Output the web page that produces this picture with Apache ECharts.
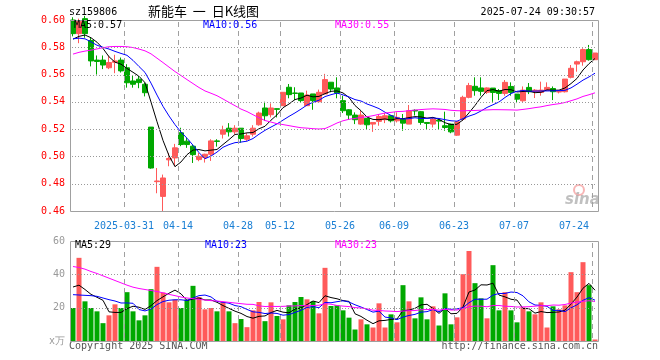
<!DOCTYPE html>
<html><head><meta charset="utf-8">
<script src="https://cdn.jsdelivr.net/npm/echarts/dist/echarts.min.js"></script>
<style>html,body{margin:0;padding:0;background:#fff}#c{width:660px;height:360px}</style>
</head><body><div id="c"></div>
<script>
const dates = [
'2025-03-18','2025-03-19','2025-03-20','2025-03-21','2025-03-24','2025-03-25','2025-03-26','2025-03-27','2025-03-28','2025-03-31',
'2025-04-01','2025-04-02','2025-04-03','2025-04-07','2025-04-08','2025-04-09','2025-04-10','2025-04-11','2025-04-14','2025-04-15',
'2025-04-16','2025-04-17','2025-04-18','2025-04-21','2025-04-22','2025-04-23','2025-04-24','2025-04-25','2025-04-28','2025-04-29',
'2025-04-30','2025-05-06','2025-05-07','2025-05-08','2025-05-09','2025-05-12','2025-05-13','2025-05-14','2025-05-15','2025-05-16',
'2025-05-19','2025-05-20','2025-05-21','2025-05-22','2025-05-23','2025-05-26','2025-05-27','2025-05-28','2025-05-29','2025-05-30',
'2025-06-03','2025-06-04','2025-06-05','2025-06-06','2025-06-09','2025-06-10','2025-06-11','2025-06-12','2025-06-13','2025-06-16',
'2025-06-17','2025-06-18','2025-06-19','2025-06-20','2025-06-23','2025-06-24','2025-06-25','2025-06-26','2025-06-27','2025-06-30',
'2025-07-01','2025-07-02','2025-07-03','2025-07-04','2025-07-07','2025-07-08','2025-07-09','2025-07-10','2025-07-11','2025-07-14',
'2025-07-15','2025-07-16','2025-07-17','2025-07-18','2025-07-21','2025-07-22','2025-07-23','2025-07-24'];

const opens = [
.600,.590,.601,.585,.5706,.5706,.565,.569,.5706,.565,
.5553,.5566,.5529,.5215,.4815,.4707,.4975,.4989,.5173,.5112,
.5075,.4977,.4992,.5016,.5114,.5163,.5207,.518,.5207,.5126,
.5163,.5232,.5355,.5306,.535,.5372,.5507,.5465,.5465,.5372,
.5458,.5401,.5458,.5544,.5502,.5409,.5342,.5303,.5237,.5279,
.5237,.5257,.5269,.5298,.5261,.5274,.5237,.5338,.5328,.5249,
.5237,.5266,.5225,.5237,.5156,.5274,.5433,.5514,.5502,.547,
.5501,.5481,.5462,.5513,.5457,.5408,.5506,.5474,.5469,.5486,
.5498,.5472,.5474,.558,.5677,.5694,.5783,.5709];
const closes = [
.590,.599,.590,.570,.5696,.567,.5688,.570,.5627,.554,
.5529,.5541,.5467,.4915,.482,.4842,.4985,.5063,.5087,.5087,
.5013,.5001,.5016,.5114,.511,.5195,.518,.5207,.5131,.5151,
.5207,.5318,.5298,.5355,.5345,.547,.5453,.5462,.5409,.545,
.5409,.547,.5563,.5494,.5465,.5335,.5303,.5269,.5303,.5232,
.5249,.5293,.5298,.5261,.5286,.5244,.5335,.5333,.5249,.5242,
.5274,.5259,.5212,.518,.5254,.5433,.5519,.5482,.5477,.5502,
.5469,.5462,.5543,.5469,.542,.5486,.5474,.5486,.5486,.5506,
.5474,.5477,.5567,.5646,.5694,.5783,.5709,.5758];
const lows = [
.588,.583,.587,.566,.560,.564,.564,.561,.5615,.5504,
.5504,.550,.544,.491,.473,.460,.4928,.4928,.5075,.5063,
.4952,.4965,.4955,.4967,.5072,.5131,.5146,.5163,.510,.5114,
.5146,.5225,.5261,.5286,.5286,.537,.5426,.5413,.5396,.5372,
.5342,.5396,.5458,.547,.5426,.5318,.5269,.5237,.5232,.520,
.518,.5225,.5244,.5249,.5249,.5188,.5237,.530,.5232,.520,
.5212,.520,.5188,.517,.5151,.5262,.5426,.5445,.5445,.5458,
.540,.5413,.5445,.5445,.5391,.540,.5457,.5428,.5445,.5481,
.5413,.5462,.5469,.5572,.5621,.5665,.5702,.5709];
const highs = [
.602,.601,.603,.587,.574,.574,.574,.5745,.5725,.5676,
.559,.559,.5543,.5215,.4915,.4867,.5026,.5092,.521,.5136,
.5087,.5026,.502,.5126,.5126,.5225,.5244,.5229,.5207,.517,
.5229,.5328,.5401,.5389,.5352,.547,.5531,.5507,.5465,.5482,
.5458,.549,.5605,.5544,.558,.5445,.5347,.5323,.5335,.528,
.5249,.531,.5318,.530,.5323,.5311,.5377,.5345,.5333,.525,
.5286,.5274,.5328,.524,.5257,.5445,.5539,.558,.558,.5506,
.5501,.5494,.556,.5543,.5457,.5513,.5538,.5494,.5548,.5543,
.5513,.5481,.5567,.567,.5702,.5793,.5817,.5758];
const volumes = [
19.8,49.9,23.8,19.8,17.8,10.7,15.4,22.0,19.8,29.3,
17.8,12.4,15.4,31.1,44.5,29.1,23.2,24.8,19.8,24.8,
33.1,26.4,19.0,19.8,17.8,23.4,17.8,10.7,13.2,8.3,
18.4,23.4,11.9,23.2,15.0,13.0,21.4,23.4,26.4,25.0,
23.8,16.6,43.9,21.0,21.4,18.4,14.0,6.9,13.0,10.0,
8.1,22.6,8.1,16.0,11.2,33.5,23.8,13.6,26.2,13.0,
20.8,9.3,28.6,10.0,14.2,40.1,54.0,34.7,25.6,13.6,
45.5,18.4,29.3,18.4,11.2,20.2,17.8,16.0,23.2,8.1,
20.8,19.0,21.4,41.3,29.3,47.3,33.5,0.9];

const priceMa5Head = [0.586, 0.588, 0.589, 0.587];
const priceMa10Head = [0.5862, 0.5867, 0.5862, 0.584, 0.5815, 0.580, 0.5787, 0.577, 0.5755];
const priceMa30Head = [0.575,0.5763,0.5772,0.5779,0.5788,0.5797,0.5804,0.5806,0.5806,0.5804,
0.5798,0.5787,0.5774,0.5752,0.572,0.5688,0.5655,0.5622,0.5593,0.5563,
0.5534,0.5505,0.548,0.5463,0.5445,0.5421,0.5396,0.5372,0.5347];
const volMa5Head = [32.4, 33.5, 30.9, 28.0];
const volMa10Head = [27.8, 27.6, 27.4, 27.2, 26.8, 25.8, 24.8, 24.0, 22.8];
const volMa30Head = [44.7,44.1,43.1,41.7,40.5,39.1,37.7,36.3,34.9,33.5,
32.3,31.5,30.9,30.3,29.7,28.9,28.0,27.2,26.4,25.8,
25.4,25.0,24.6,24.2,24.0,23.6,23.2,22.8,22.4];

const tickDates = ['2025-03-31','2025-04-14','2025-04-28','2025-05-12','2025-05-26','2025-06-09','2025-06-23','2025-07-07','2025-07-24'];
const priceTicks = {min: 0.46, max: 0.60, step: 0.02};
const volTicks = {min: 0, max: 60, step: 20};

const RED = '#ff5a5a', GREEN = '#00a800';
const MONO = 'DejaVu Sans Mono';

function movingAvg(src, n, head) {
  return src.map((_, i) => {
    if (i < n - 1) return head[i];
    let s = 0;
    for (let k = i - n + 1; k <= i; k++) s += src[k];
    return +(s / n).toFixed(5);
  });
}

const tickIdx = tickDates.map(d => dates.indexOf(d));
const isTick = (i) => tickIdx.indexOf(i) >= 0;

const candleData = dates.map((d, i) => [opens[i], closes[i], lows[i], highs[i]]);
const volData = volumes.map((v, i) => ({value: v, itemStyle: {color: closes[i] >= opens[i] ? RED : GREEN}}));

function maLine(name, data, color, xi, yi) {
  return {name, type: 'line', data, xAxisIndex: xi, yAxisIndex: yi, showSymbol: false, symbol: 'none',
    lineStyle: {color, width: 1}, z: 5, silent: true};
}

const xCommon = (gi, showLabel) => ({
  type: 'category', gridIndex: gi, data: dates, boundaryGap: true,
  axisLine: {show: false}, axisTick: {show: false}, splitLine: {show: false},
  axisLabel: showLabel ? {
    interval: (i) => isTick(i),
    formatter: (v) => v === tickDates[0] ? v : v.slice(5),
    color: '#1a7fd4', fontFamily: MONO, fontSize: 10, margin: 10,
    padding: [0, 6, 0, 0], alignMaxLabel: 'right'
  } : {show: false}
});

const textEls = [
  {type: 'text', left: 69, top: 7, style: {text: 'sz159806', font: '10px "DejaVu Sans Mono"', fill: '#000'}},
  {type: 'text', left: 148, top: 5, style: {text: '新能车  一  日K线图', font: '13px "Noto Sans CJK SC"', fill: '#000'}},
  {type: 'text', right: 65, top: 7, style: {text: '2025-07-24 09:30:57', font: '10px "DejaVu Sans Mono"', fill: '#000'}},
  {type: 'text', left: 74, top: 20, style: {text: 'MA5:0.57', font: '10px "DejaVu Sans Mono"', fill: '#000'}, z: 30},
  {type: 'text', left: 203, top: 20, style: {text: 'MA10:0.56', font: '10px "DejaVu Sans Mono"', fill: '#0000ff'}, z: 30},
  {type: 'text', left: 335, top: 20, style: {text: 'MA30:0.55', font: '10px "DejaVu Sans Mono"', fill: '#ff00ff'}, z: 30},
  {type: 'text', left: 75, top: 240, style: {text: 'MA5:29', font: '10px "DejaVu Sans Mono"', fill: '#000'}, z: 30},
  {type: 'text', left: 205, top: 240, style: {text: 'MA10:23', font: '10px "DejaVu Sans Mono"', fill: '#0000ff'}, z: 30},
  {type: 'text', left: 335, top: 240, style: {text: 'MA30:23', font: '10px "DejaVu Sans Mono"', fill: '#ff00ff'}, z: 30},
  {type: 'text', left: 69, top: 341, style: {text: 'Copyright 2025 SINA.COM', font: '10px "DejaVu Sans Mono"', fill: '#555'}},
  {type: 'text', right: 62, top: 341, style: {text: 'http://finance.sina.com.cn', font: '10px "DejaVu Sans Mono"', fill: '#555'}},
  {type: 'circle', shape: {cx: 579, cy: 190, r: 5}, style: {fill: 'none', stroke: 'rgba(240,120,120,0.55)', lineWidth: 2}, z: 1},
  {type: 'text', left: 565, top: 193, style: {text: 'sina', font: 'italic bold 15px "DejaVu Sans"', fill: 'rgba(150,150,150,0.6)'}, z: 1}
];

const chart = echarts.init(document.getElementById('c'), null, {renderer: 'canvas'});
chart.setOption({
  animation: false,
  backgroundColor: '#fff',
  grid: [
    {left: 70, top: 20, width: 528, height: 191, show: false},
    {left: 70, top: 241, width: 528, height: 100, show: false}
  ],
  xAxis: [xCommon(0, true), xCommon(1, false)],
  yAxis: [
    {gridIndex: 0, min: priceTicks.min, max: priceTicks.max, interval: priceTicks.step,
      axisLine: {show: false}, axisTick: {show: false}, splitLine: {show: false},
      axisLabel: {color: '#ff0000', fontFamily: MONO, fontSize: 10, margin: 5, formatter: (v) => v.toFixed(2)}},
    {gridIndex: 1, min: volTicks.min, max: volTicks.max, interval: volTicks.step,
      axisLine: {show: false}, axisTick: {show: false}, splitLine: {show: false},
      axisLabel: {color: '#999999', fontFamily: MONO, fontSize: 10, margin: 5, formatter: (v) => v === 0 ? 'x万' : String(v)}}
  ],
  series: [
    {type: 'candlestick', xAxisIndex: 0, yAxisIndex: 0, data: candleData, barWidth: 5,
      itemStyle: {color: RED, color0: GREEN, borderColor: RED, borderColor0: GREEN, borderWidth: 1}, z: 3},
    maLine('MA5', movingAvg(closes, 5, priceMa5Head), '#000000', 0, 0),
    maLine('MA10', movingAvg(closes, 10, priceMa10Head), '#0000ff', 0, 0),
    maLine('MA30', movingAvg(closes, 30, priceMa30Head), '#ff00ff', 0, 0),
    {type: 'bar', xAxisIndex: 1, yAxisIndex: 1, data: volData, barWidth: 5, z: 3},
    maLine('VMA5', movingAvg(volumes, 5, volMa5Head), '#000000', 1, 1),
    maLine('VMA10', movingAvg(volumes, 10, volMa10Head), '#0000ff', 1, 1),
    maLine('VMA30', movingAvg(volumes, 30, volMa30Head), '#ff00ff', 1, 1)
  ]
});

// frames and dashed / dotted grid lines, drawn from short solid pieces on top of the marks,
// with positions taken from the axis scales
const gridEls = [];
[[0, 0, priceTicks], [1, 1, volTicks]].forEach(([xi, yi, t]) => {
  const yTop = Math.round(chart.convertToPixel({yAxisIndex: yi}, t.max));
  const yBot = Math.round(chart.convertToPixel({yAxisIndex: yi}, t.min));
  const x0 = chart.convertToPixel({xAxisIndex: xi}, 0);
  const bw = chart.convertToPixel({xAxisIndex: xi}, 1) - x0;
  const n = dates.length;
  const left = Math.round(x0 - bw / 2), right = Math.round(x0 + bw * (n - 0.5));
  const steps = Math.round((t.max - t.min) / t.step);
  for (let k = 1; k < steps; k++) {
    const y = Math.round(chart.convertToPixel({yAxisIndex: yi}, t.min + k * t.step));
    for (let x = left + 2; x < right - 1; x += 3) {
      gridEls.push({type: 'rect', silent: true, z: 25, shape: {x: x, y: y, width: 1, height: 1}, style: {fill: '#999999'}});
    }
  }
  tickIdx.forEach(i => {
    const x = Math.round(x0 + bw * (i - 0.5));
    for (let y = yTop + 2; y < yBot; y += 9) {
      gridEls.push({type: 'rect', silent: true, z: 25, shape: {x: x, y: y, width: 1, height: Math.min(5, yBot - y)}, style: {fill: '#a0a0a0'}});
    }
  });
  gridEls.push({type: 'rect', silent: true, z: 26,
    shape: {x: left + 0.5, y: yTop + 0.5, width: right - left, height: yBot - yTop},
    style: {fill: null, stroke: '#a0a0a0', lineWidth: 1}});
});
chart.setOption({graphic: {elements: gridEls.concat(textEls)}});
</script>
</body></html>
